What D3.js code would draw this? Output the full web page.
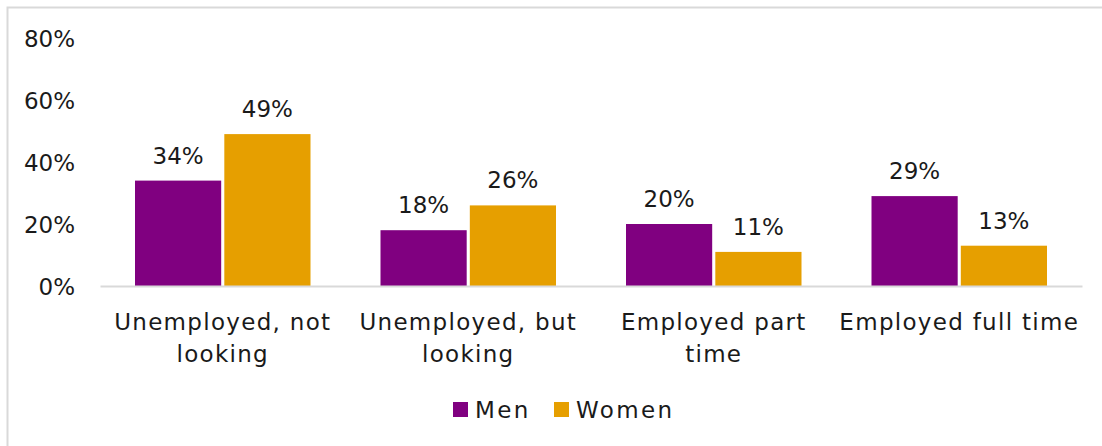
<!DOCTYPE html>
<html>
<head>
<meta charset="utf-8">
<script src="https://cdn.jsdelivr.net/npm/d3@7"></script>
<style>
  html, body { margin: 0; padding: 0; background: #fff; }
  svg text { font-family: "DejaVu Sans", sans-serif; fill: #1a1a1a; }
</style>
</head>
<body>
<svg id="chart" width="1102" height="446"></svg>
<script>
// Employment status by gender (share of respondents, %)
const categories = [
  "Unemployed, not\nlooking",
  "Unemployed, but\nlooking",
  "Employed part\ntime",
  "Employed full time"
];
const seriesNames = ["Men", "Women"];
const men   = [34, 18, 20, 29];
const women = [49, 26, 11, 13];
const yTicks = [0, 20, 40, 60, 80];
const colors = ["#800080", "#E69F00"];

const values = [men, women];
const rows = categories.map((c, i) => ({
  category: c,
  bars: seriesNames.map((s, j) => ({ series: s, value: values[j][i] }))
}));

const svg = d3.select("#chart");

// outer frame (only top and left edges fall inside the view)
svg.append("rect")
  .attr("x", 7.5).attr("y", 7.5)
  .attr("width", 1200).attr("height", 600)
  .attr("fill", "none")
  .attr("stroke", "#d9d9d9")
  .attr("stroke-width", 2);

const plot = { left: 100, right: 1082, top: 38, bottom: 286 };

const x0 = d3.scaleBand()
  .domain(categories)
  .range([plot.left, plot.right])
  .padding(0);

const bw = x0.bandwidth();
const x1 = d3.scaleBand()
  .domain(seriesNames)
  .range([35, bw - 35])
  .paddingInner(0.035);

const y = d3.scaleLinear()
  .domain([0, 80])
  .range([plot.bottom, plot.top]);

// y axis labels (no line, no ticks)
const yAxis = d3.axisLeft(y)
  .tickValues(yTicks)
  .tickFormat(d => d + "%")
  .tickSize(0)
  .tickPadding(0);

const gy = svg.append("g")
  .attr("transform", `translate(75,0)`)
  .call(yAxis);
gy.select(".domain").remove();
gy.selectAll("text")
  .attr("font-size", 23)
  .attr("font-family", "DejaVu Sans, sans-serif")
  .attr("fill", "#1a1a1a")
  .attr("dy", "0.36em");

// bars
const groups = svg.append("g").selectAll("g")
  .data(rows)
  .join("g")
  .attr("transform", d => `translate(${x0(d.category)},0)`);

groups.selectAll("rect")
  .data(d => d.bars)
  .join("rect")
  .attr("x", d => x1(d.series))
  .attr("y", d => y(d.value))
  .attr("width", x1.bandwidth())
  .attr("height", d => y(0) - y(d.value))
  .attr("fill", (d, i) => colors[i]);

// value labels
groups.selectAll("text.val")
  .data(d => d.bars)
  .join("text")
  .attr("class", "val")
  .attr("x", d => x1(d.series) + x1.bandwidth() / 2)
  .attr("y", d => y(d.value) - 17)
  .attr("text-anchor", "middle")
  .attr("font-size", 23)
  .text(d => d.value + "%");

// category axis
const xAxis = d3.axisBottom(x0).tickSize(0).tickFormat("");
const gx = svg.append("g")
  .attr("transform", `translate(0,${plot.bottom})`)
  .call(xAxis);
gx.select(".domain")
  .attr("stroke", "#d9d9d9")
  .attr("stroke-width", 2);

const labels = svg.append("g").selectAll("text")
  .data(categories)
  .join("text")
  .attr("text-anchor", "middle")
  .attr("font-size", 23)
  .attr("letter-spacing", "1.3px")
  .attr("x", d => x0(d) + bw / 2)
  .attr("y", 330);
labels.selectAll("tspan")
  .data(d => d.split("\n"))
  .join("tspan")
  .attr("x", function() { return d3.select(this.parentNode).attr("x"); })
  .attr("dy", (d, i) => i === 0 ? 0 : 32)
  .text(d => d);

// legend
const legendX = [453, 554];
const legend = svg.append("g").selectAll("g")
  .data(seriesNames)
  .join("g")
  .attr("transform", (d, i) => `translate(${legendX[i]},402)`);
legend.append("rect")
  .attr("width", 15).attr("height", 15)
  .attr("fill", (d, i) => colors[i]);
legend.append("text")
  .attr("x", 22).attr("y", 16)
  .attr("font-size", 23)
  .attr("letter-spacing", "2.4px")
  .text(d => d);
</script>
</body>
</html>
